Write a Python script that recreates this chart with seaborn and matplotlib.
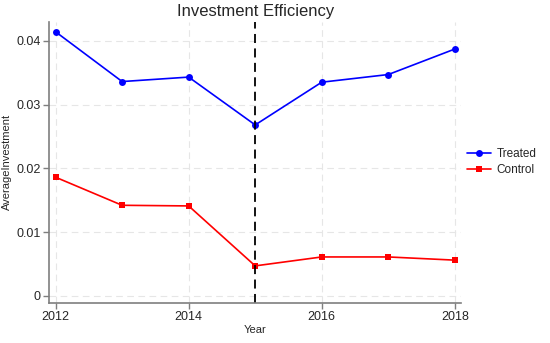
import pandas as pd
import matplotlib.pyplot as plt
import seaborn as sns

# --- data ---
years = [2012, 2013, 2014, 2015, 2016, 2017, 2018]
treated = [0.0414, 0.0336, 0.0343, 0.0268, 0.0335, 0.0347, 0.0387]
control = [0.0186, 0.0142, 0.0141, 0.0047, 0.0061, 0.0061, 0.0056]
groups = ['Treated', 'Control']
event_year = 2015

sns.set_theme(style='white')
plt.rcParams['font.family'] = ['Liberation Sans', 'DejaVu Sans']

df = pd.DataFrame({
    'Year': years * 2,
    'AverageInvestment': treated + control,
    'group': [groups[0]] * len(years) + [groups[1]] * len(years),
})

fig = plt.figure(figsize=(5.5, 3.43), dpi=100)
ax = fig.add_axes([0.089, 0.117, 0.75, 0.82])

sns.lineplot(data=df, x='Year', y='AverageInvestment', hue='group', style='group',
             hue_order=groups, style_order=groups,
             palette={'Treated': '#0000ff', 'Control': '#ff0000'},
             markers={'Treated': 'o', 'Control': 's'}, dashes=False,
             markersize=5, markeredgewidth=0, linewidth=1.2, ax=ax)

ax.axvline(event_year, color='black', linestyle=(0, (5, 3)), linewidth=1.3)

ax.set_xlim(2011.9, 2018.1)
ax.set_ylim(-0.0011, 0.0430)
ax.set_xticks([2012, 2014, 2016, 2018])
ax.set_yticks([0, 0.01, 0.02, 0.03, 0.04])
ax.set_yticklabels(['0', '0.01', '0.02', '0.03', '0.04'])
ax.grid(True, color='#e6e6e6', linestyle=(0, (6, 4)), linewidth=0.8)

for s in ['top', 'right']:
    ax.spines[s].set_visible(False)
for s in ['left', 'bottom']:
    ax.spines[s].set_color('#7f7f7f')
    ax.spines[s].set_linewidth(1.2)
ax.tick_params(axis='both', direction='out', length=4, width=1, color='#7f7f7f',
               labelsize=9, pad=2, left=True, bottom=True)

ax.set_title('Investment Efficiency', fontsize=12, pad=4)
ax.set_xlabel('Year', fontsize=8, labelpad=1)
ax.set_ylabel('AverageInvestment', fontsize=8, labelpad=3)

handles, labels = ax.get_legend_handles_labels()
ax.legend(handles, labels, loc='center left', bbox_to_anchor=(1.0, 0.5),
          frameon=False, fontsize=8.5, handlelength=2.0, handletextpad=0.5,
          borderaxespad=0.3, borderpad=0.2, labelspacing=0.3)

plt.savefig('out.png', dpi=100)
